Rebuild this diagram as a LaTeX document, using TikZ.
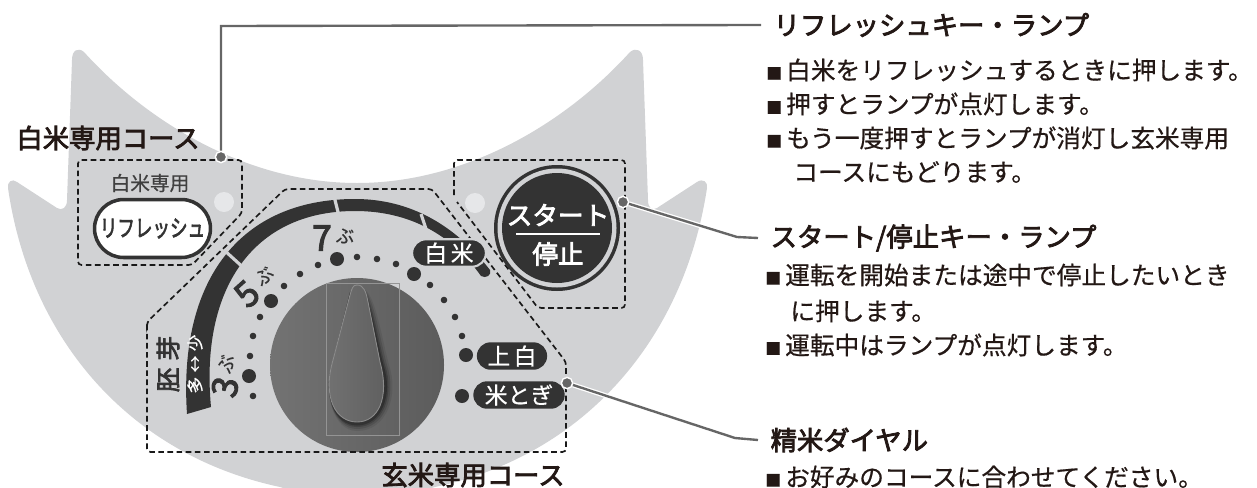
\documentclass[tikz,border=0pt]{standalone}
\usepackage{fontspec}
\setmainfont{Noto Sans CJK JP}
\newfontfamily\medfont[FakeBold=0.6]{Noto Sans CJK JP}
\newfontfamily\semifont[FakeBold=3]{Noto Sans CJK JP}
\usetikzlibrary{shapes.misc}
\definecolor{panel}{HTML}{D1D2D4}
\definecolor{ink}{HTML}{333333}
\definecolor{lead}{HTML}{666666}
\definecolor{lamp}{HTML}{E6E7E9}
\definecolor{txt}{HTML}{231815}
% one drawing unit is one pixel, 0.569pt
\newcommand{\fs}[1]{\fontsize{#1}{#1}\selectfont}
\newcommand{\sqm}{\makebox[11.3pt][l]{\fs{9}■}}
\begin{document}
\begin{tikzpicture}[x=0.02cm,y=-0.02cm,
    head/.style={anchor=west,inner xsep=7pt,inner ysep=0pt,text=txt,font=\semifont\fs{15}},
    item/.style={anchor=west,inner sep=0pt,text=txt,font=\medfont\fs{14.05}},
    course/.style={inner sep=0pt,text=txt,font=\semifont\fs{15}},
    zone/.style={black!90,line width=0.95pt,dash pattern=on 3.2pt off 2pt,rounded corners=2pt},
    pill/.style={rounded rectangle,fill=ink,text=white,inner sep=0pt,minimum height=15.6pt,font=\medfont\fs{13}},
    tick/.style={draw=panel,line width=1.8pt},
    leadline/.style={draw=lead,line width=1.35pt},
    leadhalo/.style={draw=white,line width=2.8pt},
    leaddot/.style={circle,fill=lead,draw=white,line width=0.8pt,inner sep=0pt,minimum size=6.4pt},
    num/.style={inner sep=0pt,text=ink,font=\semifont\fs{20}},
    bu/.style={inner sep=0pt,text=ink,font=\medfont\fs{10.5}}]
  \clip (0,0) rectangle (1257,487);
  % panel outline
  \fill[panel] (84,52) .. controls (150,125) and (250,183) .. (357,183)
    .. controls (464,183) and (564,125) .. (630,52)
    .. controls (636,47) and (643,50) .. (643,60) -- (648,200)
    .. controls (648,208) and (652,211) .. (657,208) -- (697,182)
    .. controls (703,178) and (708,182) .. (707,188)
    .. controls (684,340) and (584,455) .. (435,487) -- (357,510) -- (280,487)
    .. controls (130,455) and (30,340) .. (8,188)
    .. controls (7,182) and (12,178) .. (17,182) -- (57,208)
    .. controls (62,211) and (67,208) .. (67,200) -- (72,60)
    .. controls (72,50) and (78,47) .. (84,52) -- cycle;

  % grain scale band
  \fill[ink] (187,414) .. controls (178,280) and (240,199) .. (355,199)
    .. controls (410,199) and (455,225) .. (490,270)
    .. controls (492,275) and (486,279) .. (481,276)
    .. controls (452,235) and (410,211) .. (355,211)
    .. controls (252,211) and (200,290) .. (211,407) -- cycle;
  \draw[tick] (224,250) -- (246,270);
  \draw[tick] (334,196) -- (339,216);
  \draw[tick] (421,214) -- (426,229);

  % scale dots
  \foreach \x/\y in {253/396,250/356,253/336,260/317,284/286,300/274,318/265,357/257,377/259,396/264,430/285,444/300,455/317,462/336}{
    \fill[ink] (\x,\y) circle (3.3);
  }
  \foreach \x/\y in {249/376,271/301,337/259,414/274,466/355,462/396}{
    \fill[ink] (\x,\y) circle (7);
  }

  % dial and knob
  \shade[left color=black!55,right color=black!64] (357,365) circle (87);
  \draw[black!42,line width=0.4pt] (326,283) rectangle (399,435);
  \foreach \d/\o in {7/0.08,5/0.12,3/0.18,1.5/0.25}{
    \fill[black,opacity=\o] (359+\d/2,286+\d/3) .. controls (368+\d,292) and (374+\d,335) .. (382+\d,365)
      .. controls (392+\d,395) and (380+\d,424+\d) .. (357,424+\d)
      .. controls (334,424+\d) and (322,395) .. (333,360) -- (350,292) -- cycle;
  }
  \shade[left color=black!55,right color=black!63,draw=black!45,line width=0.5pt]
    (357,285) .. controls (364,285) and (366,292) .. (368,302) -- (380,362)
    .. controls (390,398) and (378,422) .. (357,422)
    .. controls (336,422) and (322,398) .. (333,360) -- (350,295)
    .. controls (352,288) and (353,285) .. (357,285) -- cycle;

  % zones
  \draw[zone] (78,160) -- (242,160) -- (242,213) -- (192,265) -- (78,265) -- cycle;
  \draw[zone] (147,328) -- (147,322) -- (285,189) -- (432,189) -- (566,362) -- (566,452) -- (147,452) -- cycle;
  \draw[zone] (454,195) -- (454,160) -- (625,160) -- (625,308) -- (538,308) -- (457,202);

  % white rice key
  \fill[lamp] (224,202) circle (10);
  \node[inner sep=0pt,text=black!75,font=\medfont\fs{11.2}] (whitetitle) at (150,183) {白米専用};
  \node[rounded rectangle,draw=ink,line width=2pt,fill=white,inner sep=0pt,minimum width=66pt,minimum height=33pt,text=ink,font=\semifont\fs{13.5}]
    (refreshkey) at (152.5,228.5) {\scalebox{.74}[1]{リフレッシュ}};

  % start key
  \fill[lamp] (475,203) circle (10);
  \fill[ink] (557,228) circle (63);
  \fill[panel] (557,228) circle (59.5);
  \fill[ink] (557,228) circle (55);
  \node[inner sep=0pt,text=white,font=\semifont\fs{14.6}] (startlabel) at (558,215) {スタート};
  \node[inner sep=0pt,text=white,font=\semifont\fs{14.6}] (stoplabel) at (558,254) {停止};
  \draw[white,line width=1.1pt] (516,234) -- (600,234);

  % dial position labels
  \node[pill,draw=panel,line width=1.2pt,minimum width=42pt] (whitepill) at (449,253) {白\hspace{2pt}米};
  \node[pill,minimum width=40pt] (upperpill) at (512,356) {上\hspace{2pt}白};
  \node[pill,minimum width=52pt] (washpill) at (519,395) {米とぎ};
  \node[num,rotate=78] (numthree) at (225,387) {3};
  \node[bu,rotate=78] (buthree) at (226,364) {ぶ};
  \node[num,rotate=42] (numfive) at (247,294) {5};
  \node[bu,rotate=42] (bufive) at (264,276) {ぶ};
  \node[num] (numseven) at (322,238) {7};
  \node[bu] (buseven) at (345,236) {ぶ};
  \node[inner sep=0pt,rotate=90,text=ink,font=\semifont\fs{14}] (germ) at (168,364) {胚\hspace{4pt}芽};
  \node[inner sep=0pt,rotate=90,text=white,font=\medfont\fs{9.5}] (germscale) at (195,364) {多\hspace{2.5pt}↔\hspace{2.5pt}少};

  % course names
  \node[course] (whitecourse) at (108,138) {白米専用コース};
  \node[course] (browncourse) at (473,475) {玄米専用コース};

  % right-hand notes
  \node[head] (refreshhead) at (761,25) {リフレッシュキー・ランプ};
  \node[item] (refresha) at (766,70) {\sqm 白米をリフレッシュするときに押します。};
  \node[item] (refreshb) at (766,104) {\sqm 押すとランプが点灯します。};
  \node[item] (refreshc) at (766,138) {\sqm もう一度押すとランプが消灯し玄米専用};
  \node[item] (refreshd) at (793,172) {コースにもどります。};
  \node[head] (starthead) at (758,238) {スタート/停止キー・ランプ};
  \node[item] (starta) at (765,275) {\sqm 運転を開始または途中で停止したいとき};
  \node[item] (startb) at (790,311) {に押します。};
  \node[item] (startc) at (765,345) {\sqm 運転中はランプが点灯します。};
  \node[head] (dialhead) at (758,440) {精米ダイヤル};
  \node[item] (diala) at (765,477) {\sqm お好みのコースに合わせてください。};

  % leaders
  \node[leaddot] (refreshdot) at (221,157) {};
  \node[leaddot] (startdot) at (623,202) {};
  \node[leaddot] (dialdot) at (567,383) {};
  \coordinate (refreshbend) at (221,26);
  \coordinate (startbend) at (737,237);
  \coordinate (dialbend) at (735,438);
  \draw[leadhalo] (startdot) -- (startbend);
  \draw[leadhalo] (dialdot) -- (dialbend);
  \draw[leadline] (refreshdot) -- (refreshbend) -- (refreshhead.west);
  \draw[leadline] (startdot) -- (startbend) -- (starthead.west);
  \draw[leadline] (dialdot) -- (dialbend) -- (dialhead.west);
\end{tikzpicture}
\end{document}
